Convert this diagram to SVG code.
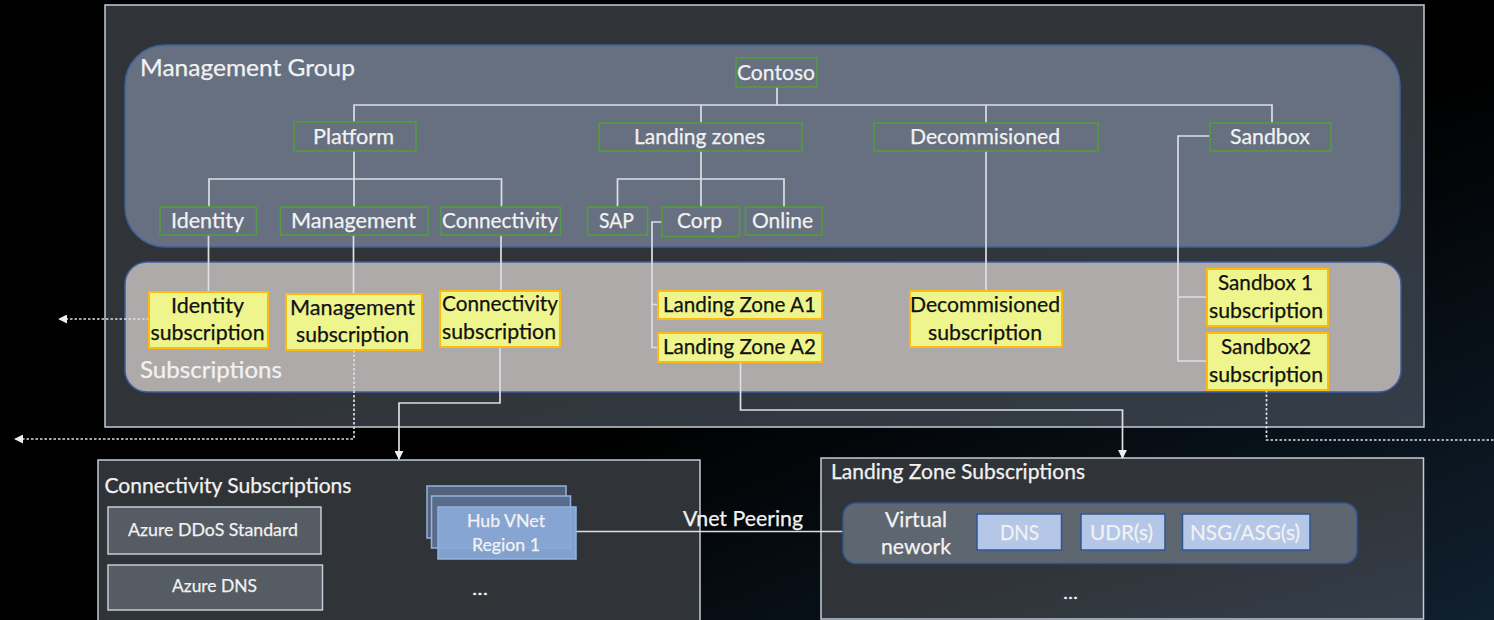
<svg xmlns="http://www.w3.org/2000/svg" width="1494" height="620" viewBox="0 0 1494 620">
<style>
text{font-family:"Lato","Liberation Sans",sans-serif;font-size:22px;fill:#f2f2f2;stroke:#f2f2f2;stroke-width:0.25}
.g rect{fill:none;stroke:#549a3e;stroke-width:1.6}
.y rect{fill:#eef58c;stroke:#fdbb12;stroke-width:2}
.y text{fill:#111;stroke:#111}
.frame{stroke:#c3cbd6;stroke-width:1.5}
.dk{fill:#565c63;stroke:#c3cbd6;stroke-width:1.5}
.hub{stroke:#8fb4e3;stroke-width:1.5}
.in{fill:#b4c7e7;stroke:#2f5597;stroke-width:1.5}
.l{fill:none;stroke:#dcdfe3;stroke-width:1.7}
.d{fill:none;stroke:#dcdfe3;stroke-width:1.7;stroke-dasharray:2.5 2}
</style>
<defs>
<linearGradient id="bg" x1="0" y1="0" x2="1" y2="1"><stop offset="0.55" stop-color="#000"/><stop offset="1" stop-color="#10202f"/></linearGradient>
<linearGradient id="pan" x1="0" y1="0" x2="1" y2="1"><stop offset="0.5" stop-color="#303438"/><stop offset="1" stop-color="#343d49"/></linearGradient>
<marker id="a" viewBox="0 0 10 10" refX="9" refY="5" markerWidth="9" markerHeight="9" markerUnits="userSpaceOnUse" orient="auto"><path d="M0 0L10 5L0 10Z" fill="#eceef0"/></marker>
</defs>
<rect width="1494" height="620" fill="url(#bg)"/>
<g id="outer"><rect x="105" y="5" width="1319" height="422" fill="url(#pan)" class="frame"/></g>
<g id="management-group"><rect x="125" y="45" width="1275" height="202" rx="40" fill="#667080" stroke="#3d5f9c" stroke-width="1.5"/><text x="140" y="76" style="font-size:24px" textLength="215" lengthAdjust="spacingAndGlyphs">Management Group</text></g>
<g id="subscriptions"><rect x="125" y="262" width="1276" height="130" rx="22" fill="#aeaaa9" stroke="#3d5f9c" stroke-width="1.5"/><text x="140" y="378" style="font-size:24px" textLength="142" lengthAdjust="spacingAndGlyphs">Subscriptions</text></g>
<g id="connectivity-subscriptions"><rect x="98" y="460" width="602" height="170" fill="#303438" class="frame"/><text x="104.500" y="493" textLength="247" lengthAdjust="spacingAndGlyphs">Connectivity Subscriptions</text></g>
<g id="landing-zone-subscriptions"><rect x="821" y="458" width="602.500" height="161" fill="url(#pan)" class="frame"/><text x="831" y="479" textLength="254" lengthAdjust="spacingAndGlyphs">Landing Zone Subscriptions</text></g>

<g id="connectors">
<path class="l" d="M777 87V105M354 122V105H1272V123M701 105V123M986 105V123"/>
<path class="l" d="M354 151V207M209 207V179H501.500V207"/>
<path class="l" d="M208.500 235V292M353.500 235V294M501 235V291"/>
<path class="l" d="M701 151V207M617.500 207V179H784V207"/>
<path class="l" d="M662 222H652V347.500H658M652 304.500H658"/>
<path class="l" d="M986 151V291"/>
<path class="l" d="M1210 136H1178V361H1207M1178 297H1207"/>
<path class="l" marker-end="url(#a)" d="M500 347V403H399V459"/>
<path class="l" marker-end="url(#a)" d="M740.500 362V410H1122.500V458"/>
<path class="d" marker-end="url(#a)" d="M149 319H59"/>
<path class="d" marker-end="url(#a)" d="M354 350V439H15"/>
<path class="d" d="M1266.500 390V440H1494"/>
<path class="l" d="M576 531.500H843"/>
</g>

<g id="contoso" class="g"><rect x="736" y="58" width="81" height="29"/><text x="737" y="80" textLength="78" lengthAdjust="spacingAndGlyphs">Contoso</text></g>
<g id="platform" class="g"><rect x="294" y="122" width="122" height="29"/><text x="313" y="144" textLength="81" lengthAdjust="spacingAndGlyphs">Platform</text></g>
<g id="landing-zones" class="g"><rect x="599" y="123" width="203" height="28"/><text x="634" y="144" textLength="131" lengthAdjust="spacingAndGlyphs">Landing zones</text></g>
<g id="decommisioned" class="g"><rect x="874" y="123" width="224" height="28"/><text x="910" y="144" textLength="150" lengthAdjust="spacingAndGlyphs">Decommisioned</text></g>
<g id="sandbox" class="g"><rect x="1210" y="123" width="121" height="28"/><text x="1230" y="144" textLength="80" lengthAdjust="spacingAndGlyphs">Sandbox</text></g>
<g id="identity" class="g"><rect x="160" y="207" width="96.500" height="28"/><text x="171" y="228" textLength="73" lengthAdjust="spacingAndGlyphs">Identity</text></g>
<g id="management" class="g"><rect x="280.500" y="207" width="147.500" height="28"/><text x="291" y="228" textLength="125" lengthAdjust="spacingAndGlyphs">Management</text></g>
<g id="connectivity" class="g"><rect x="441" y="207" width="119.500" height="28"/><text x="442" y="228" textLength="116" lengthAdjust="spacingAndGlyphs">Connectivity</text></g>
<g id="sap" class="g"><rect x="587.500" y="207" width="60" height="28"/><text x="599" y="228" textLength="35" lengthAdjust="spacingAndGlyphs">SAP</text></g>
<g id="corp" class="g"><rect x="662" y="207" width="77.500" height="29.500"/><text x="677" y="228" textLength="45" lengthAdjust="spacingAndGlyphs">Corp</text></g>
<g id="online" class="g"><rect x="745.500" y="207" width="76.500" height="28"/><text x="752" y="228" textLength="61" lengthAdjust="spacingAndGlyphs">Online</text></g>

<g id="identity-subscription" class="y"><rect x="149" y="292" width="119" height="56"/><text x="171" y="313" textLength="73" lengthAdjust="spacingAndGlyphs">Identity</text><text x="150.500" y="340" textLength="114" lengthAdjust="spacingAndGlyphs">subscription</text></g>
<g id="management-subscription" class="y"><rect x="286" y="294" width="136" height="56"/><text x="290" y="315" textLength="125" lengthAdjust="spacingAndGlyphs">Management</text><text x="296" y="342" textLength="113" lengthAdjust="spacingAndGlyphs">subscription</text></g>
<g id="connectivity-subscription" class="y"><rect x="440" y="291" width="120" height="56"/><text x="442" y="311" textLength="116" lengthAdjust="spacingAndGlyphs">Connectivity</text><text x="442" y="339" textLength="114" lengthAdjust="spacingAndGlyphs">subscription</text></g>
<g id="landing-zone-a1" class="y"><rect x="658" y="291" width="164" height="28"/><text x="663" y="312" textLength="153" lengthAdjust="spacingAndGlyphs">Landing Zone A1</text></g>
<g id="landing-zone-a2" class="y"><rect x="658" y="333" width="164" height="29"/><text x="663" y="354" textLength="153" lengthAdjust="spacingAndGlyphs">Landing Zone A2</text></g>
<g id="decommisioned-subscription" class="y"><rect x="910" y="291" width="152" height="56"/><text x="910" y="312" textLength="150" lengthAdjust="spacingAndGlyphs">Decommisioned</text><text x="928" y="340" textLength="114" lengthAdjust="spacingAndGlyphs">subscription</text></g>
<g id="sandbox1-subscription" class="y"><rect x="1207" y="269" width="121" height="57"/><text x="1218" y="290" textLength="95" lengthAdjust="spacingAndGlyphs">Sandbox 1</text><text x="1209" y="318" textLength="114" lengthAdjust="spacingAndGlyphs">subscription</text></g>
<g id="sandbox2-subscription" class="y"><rect x="1207" y="333" width="121" height="57"/><text x="1221" y="354" textLength="90" lengthAdjust="spacingAndGlyphs">Sandbox2</text><text x="1209" y="382" textLength="114" lengthAdjust="spacingAndGlyphs">subscription</text></g>

<g id="azure-ddos"><rect x="108" y="507" width="213" height="47" class="dk"/><text x="128" y="536" style="font-size:18px" textLength="170" lengthAdjust="spacingAndGlyphs">Azure DDoS Standard</text></g>
<g id="azure-dns"><rect x="108" y="565" width="214.500" height="45" class="dk"/><text x="172" y="592" style="font-size:18px" textLength="85" lengthAdjust="spacingAndGlyphs">Azure DNS</text></g>
<g id="hub-vnet">
<rect x="427" y="486" width="139" height="52" fill="#53627a" class="hub"/>
<rect x="431.500" y="496" width="139" height="52" fill="#5a6c89" class="hub"/>
<rect x="438" y="507" width="138" height="52" fill="#8aaad9" fill-opacity="0.92" class="hub"/>
<text x="467" y="527" style="font-size:18px" textLength="78" lengthAdjust="spacingAndGlyphs">Hub VNet</text>
<text x="472" y="551" style="font-size:18px" textLength="68" lengthAdjust="spacingAndGlyphs">Region 1</text>
</g>
<text x="472" y="595" style="font-size:18px" textLength="16" lengthAdjust="spacingAndGlyphs">...</text>
<text x="683" y="526" textLength="120" lengthAdjust="spacingAndGlyphs">Vnet Peering</text>
<g id="virtual-network"><rect x="843" y="503" width="514" height="60.500" rx="13" fill="#5e666f" stroke="#2f5597" stroke-width="1.5"/><text x="885" y="527" textLength="62" lengthAdjust="spacingAndGlyphs">Virtual</text><text x="881" y="554" textLength="70" lengthAdjust="spacingAndGlyphs">nework</text></g>
<g id="dns"><rect x="977" y="514" width="84.500" height="36" class="in"/><text x="1000" y="540" textLength="39" lengthAdjust="spacingAndGlyphs">DNS</text></g>
<g id="udr"><rect x="1081" y="514" width="84" height="36" class="in"/><text x="1090" y="540" textLength="63" lengthAdjust="spacingAndGlyphs">UDR(s)</text></g>
<g id="nsg"><rect x="1182.500" y="514" width="127.500" height="36" class="in"/><text x="1190" y="540" textLength="110" lengthAdjust="spacingAndGlyphs">NSG/ASG(s)</text></g>
<text x="1063" y="599" style="font-size:18px" textLength="15" lengthAdjust="spacingAndGlyphs">...</text>
</svg>
